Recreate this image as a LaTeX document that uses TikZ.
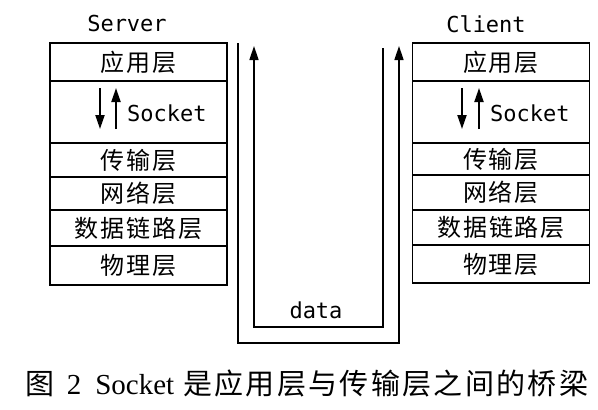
\documentclass[tikz,border=0pt]{standalone}
\usepackage{fontspec}
\setmainfont{Liberation Serif}
\setmonofont{DejaVu Sans Mono}
\newfontfamily\cjk[LetterSpace=8]{Noto Sans CJK SC}
\newfontfamily\cjkcap[LetterSpace=8]{Noto Sans CJK SC}
\usetikzlibrary{arrows.meta}

\tikzset{
  layer/.style={draw, line width=1.6pt, minimum width=177pt, inner sep=0pt,
    font=\cjk\fontsize{24}{24}\selectfont},
  tag/.style={font=\ttfamily\fontsize{22}{22}\selectfont, inner sep=0pt},
  flow/.style={line width=1.6pt, -{Triangle[width=9pt,length=14pt]}},
  sarrow/.style={line width=2pt, -{Triangle[width=9pt,length=14pt]}},
}

\begin{document}
\begin{tikzpicture}[x=1pt,y=-1pt]
  \useasboundingbox (0,0) rectangle (598,410);

  % Server stack
  \node[tag] (server) at (127,23) {Server};
  \node[layer, minimum height=38] (s-app)   at (138.5,62)  {应用层};
  \node[layer, minimum height=62] (s-sock)  at (138.5,112) {};
  \node[layer, minimum height=34] (s-trans) at (138.5,160) {传输层};
  \node[layer, minimum height=33] (s-net)   at (138.5,193.5) {网络层};
  \node[layer, minimum height=36] (s-link)  at (138.5,228) {数据链路层};
  \node[layer, minimum height=39] (s-phy)   at (138.5,265.5) {物理层};
  \node[tag, anchor=west] (s-lbl) at (127,113) {Socket};
  \coordinate (s-dn-a) at (100,88);  \coordinate (s-dn-b) at (100,129);
  \coordinate (s-up-a) at (116,129); \coordinate (s-up-b) at (116,88);
  \draw[sarrow] (s-dn-a) -- (s-dn-b);
  \draw[sarrow] (s-up-a) -- (s-up-b);

  % Client stack
  \node[tag] (client) at (486,24) {Client};
  \node[layer, minimum height=38] (c-app)   at (501,62)  {应用层};
  \node[layer, minimum height=62] (c-sock)  at (501,112) {};
  \node[layer, minimum height=32] (c-trans) at (501,159) {传输层};
  \node[layer, minimum height=35] (c-net)   at (501,192.5) {网络层};
  \node[layer, minimum height=35] (c-link)  at (501,227.5) {数据链路层};
  \node[layer, minimum height=38] (c-phy)   at (501,264) {物理层};
  \node[tag, anchor=west] (c-lbl) at (490,113) {Socket};
  \coordinate (c-dn-a) at (462,88);  \coordinate (c-dn-b) at (462,129);
  \coordinate (c-up-a) at (479,129); \coordinate (c-up-b) at (479,88);
  \draw[sarrow] (c-dn-a) -- (c-dn-b);
  \draw[sarrow] (c-up-a) -- (c-up-b);

  % Data paths between the two sides
  \coordinate (out-a) at (238,43);  \coordinate (out-b) at (238,343);
  \coordinate (out-c) at (399,343); \coordinate (out-d) at (399,46);
  \coordinate (in-a) at (383,48);   \coordinate (in-b) at (383,327);
  \coordinate (in-c) at (254,327);  \coordinate (in-d) at (254,46);
  \draw[flow] (out-a) -- (out-b) -- (out-c) -- (out-d);
  \draw[flow] (in-a) -- (in-b) -- (in-c) -- (in-d);
  \node[tag] (data) at (316,310) {data};

  % Caption
  \node[inner sep=0pt] (cap) at (307,383)
    {\cjkcap\fontsize{29}{29}\selectfont 图\hspace{12pt}{\rmfamily 2}\hspace{14pt}{\rmfamily Socket}\hspace{9pt}是应用层与传输层之间的桥梁};
\end{tikzpicture}
\end{document}
